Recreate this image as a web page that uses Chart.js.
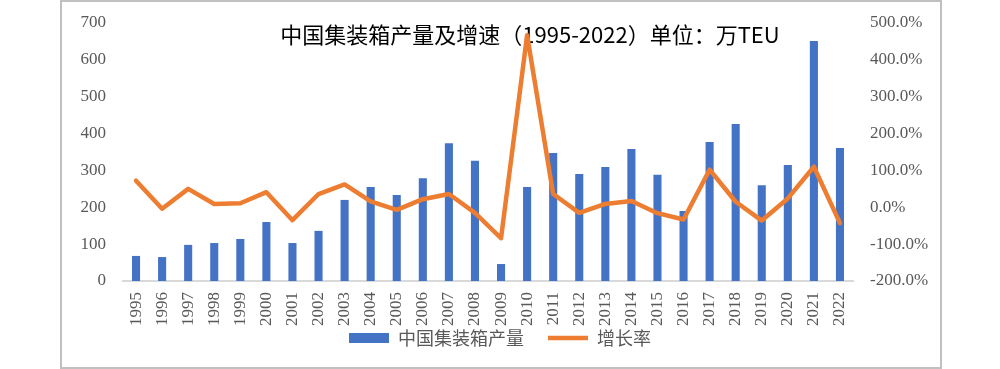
<!DOCTYPE html>
<html><head><meta charset="utf-8">
<script src="https://cdn.jsdelivr.net/npm/chart.js@4.4.0/dist/chart.umd.min.js"></script>
<style>html,body{margin:0;padding:0;background:#fff;}#wrap{width:1000px;height:369px;position:relative;}</style>
</head><body><div id="wrap"><canvas id="c" width="1000" height="369"></canvas></div>
<script>
const years = ['1995','1996','1997','1998','1999','2000','2001','2002','2003','2004','2005','2006','2007','2008','2009','2010','2011','2012','2013','2014','2015','2016','2017','2018','2019','2020','2021','2022'];
const production = [68,65,98,103,114,160,103,136,220,255,233,279,374,326,46,255,347,290,309,358,288,190,377,426,260,315,651,361];
const growthRate = [72,-4,50,9,11,41,-35,36,62,16,-7,22,36,-15,-84,467,36,-15,9,17,-16,-33,102,15,-36,24,110,-43];
const seriesNames = ['中国集装箱产量','增长率'];
const titleText = '中国集装箱产量及增速（1995-2022）单位：万TEU';
const leftAxis = {min:0, max:700, step:100};
const rightAxis = {min:-200, max:500, step:100};

const tickFont = {family:'"Liberation Serif", serif', size:17};
const tickColor = '#595959';

const framePlugin = {
  id:'frame',
  beforeDraw(chart){
    const ctx = chart.ctx;
    ctx.save();
    ctx.fillStyle = '#fff';
    ctx.fillRect(0,0,chart.width,chart.height);
    ctx.strokeStyle = '#C0C0C0';
    ctx.lineWidth = 2;
    ctx.strokeRect(61,1,880,367);
    ctx.restore();
  },
  beforeDatasetsDraw(chart){
    const ctx = chart.ctx;
    ctx.save();
    ctx.font = '22px "Noto Sans CJK SC", sans-serif';
    ctx.fillStyle = '#000';
    ctx.textAlign = 'center';
    ctx.textBaseline = 'middle';
    ctx.fillText(titleText, 530, 35);
    ctx.restore();
  }
};

new Chart(document.getElementById('c'), {
  type:'bar',
  data:{
    labels: years,
    datasets:[
      {type:'bar', label:seriesNames[0], data:production, backgroundColor:'#4472C4', borderWidth:0,
       barPercentage:0.31, categoryPercentage:1, yAxisID:'y', order:1, pointStyle:'rect'},
      {type:'line', label:seriesNames[1], data:growthRate, borderColor:'#ED7D31', backgroundColor:'#ED7D31',
       borderWidth:4.5, pointRadius:0, tension:0, borderJoinStyle:'round', borderCapStyle:'round',
       yAxisID:'y1', order:0, pointStyle:'line'}
    ]
  },
  options:{
    responsive:false, animation:false, devicePixelRatio:1,
    layout:{padding:{top:23, left:0, right:0, bottom:12}},
    plugins:{
      title:{display:false},
      tooltip:{enabled:false},
      legend:{
        display:true, position:'bottom',
        labels:{
          usePointStyle:true, pointStyleWidth:40, boxHeight:10, padding:24,
          color:'#595959', font:{family:'"Noto Sans CJK SC", sans-serif', size:18},
          sort:(a,b)=>a.datasetIndex-b.datasetIndex
        }
      }
    },
    scales:{
      x:{
        offset:true,
        grid:{display:false, drawTicks:false},
        border:{display:true, color:'#D9D9D9', width:2},
        ticks:{minRotation:90, maxRotation:90, autoSkip:false, padding:11, color:tickColor, font:tickFont},
        afterFit(s){ s.height = 24; s._computeLabelArea = () => undefined; }
      },
      y:{
        position:'left', min:leftAxis.min, max:leftAxis.max,
        grid:{display:false, drawTicks:false}, border:{display:false},
        ticks:{stepSize:leftAxis.step, padding:17, color:tickColor, font:tickFont},
        afterFit(s){ s.width = 123; s.paddingTop = 0; s.paddingBottom = 0; }
      },
      y1:{
        position:'right', min:rightAxis.min, max:rightAxis.max,
        grid:{display:false, drawTicks:false}, border:{display:false},
        ticks:{stepSize:rightAxis.step, padding:17, color:tickColor, font:tickFont,
               callback:v=>v.toFixed(1)+'%'},
        afterFit(s){ s.width = 147; s.paddingTop = 0; s.paddingBottom = 0; }
      }
    }
  },
  plugins:[framePlugin]
});
</script></body></html>
